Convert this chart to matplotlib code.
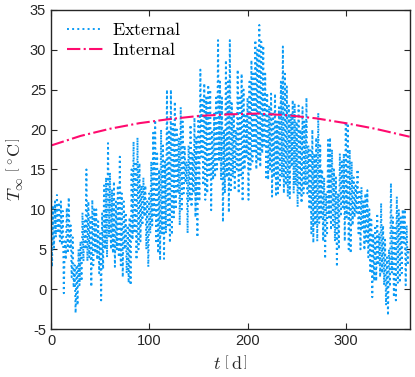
import numpy as np
from matplotlib import pyplot as plt

plt.rcParams["mathtext.fontset"] = "cm"
plt.rcParams["font.family"] = ["Liberation Sans", "DejaVu Sans"]
plt.rcParams["axes.unicode_minus"] = False

# daily external temperature (day 0 .. 364)
t_external = [
    12.4, 2.8, 10.5, 5.2, 11.0, 6.5, 11.8, 7.0, 10.9, 6.0,
    11.0, 5.5, 9.8, -0.5, 6.0, 3.7, 10.2, 4.5, 11.5, 5.0,
    8.0, 1.5, 6.5, 0.2, 3.0, -3.0, 3.0, -2.0, 5.0, 0.5,
    6.0, 1.0, 9.6, 3.5, 8.5, 5.0, 15.0, 3.5, 11.0, 4.0,
    9.0, 0.3, 11.2, 3.0, 10.0, 4.5, 10.0, 3.7, 8.5, 2.0,
    7.0, -1.4, 9.5, 2.5, 13.0, 5.0, 14.0, 4.0, 18.3, 6.5,
    14.6, 5.0, 12.5, 4.5, 13.5, 2.8, 11.0, 5.0, 13.0, 4.0,
    16.6, 3.0, 12.0, 1.5, 11.0, 5.0, 9.6, 2.0, 8.0, 0.8,
    9.0, 0.5, 15.0, 6.2, 18.5, 7.0, 16.0, 3.7, 19.0, 5.0,
    15.8, 6.0, 13.0, 8.0, 14.0, 9.1, 13.0, 5.0, 11.0, 2.8,
    12.0, 7.0, 16.0, 8.0, 19.6, 9.0, 21.2, 6.0, 17.0, 4.5,
    15.0, 3.6, 20.0, 7.0, 18.0, 3.8, 16.0, 7.0, 25.0, 8.0,
    20.0, 5.8, 25.0, 6.8, 21.0, 9.0, 23.5, 10.0, 20.0, 12.0,
    19.0, 8.0, 22.8, 10.0, 21.0, 12.0, 18.0, 13.3, 16.0, 7.0,
    18.0, 11.0, 20.6, 10.3, 17.0, 12.0, 21.5, 9.0, 19.0, 6.5,
    22.0, 11.0, 27.5, 16.6, 24.0, 13.0, 25.8, 11.2, 24.0, 12.0,
    25.6, 14.0, 25.0, 9.9, 20.0, 13.7, 22.0, 14.0, 24.0, 15.0,
    31.2, 16.0, 26.0, 13.7, 24.0, 8.4, 20.0, 12.0, 28.7, 14.0,
    26.0, 9.6, 31.2, 12.4, 23.3, 14.0, 22.0, 12.4, 20.0, 15.0,
    27.5, 12.0, 24.0, 14.0, 27.0, 11.0, 25.0, 15.0, 22.0, 16.6,
    24.0, 11.2, 26.0, 15.0, 28.7, 16.0, 27.0, 17.0, 31.2, 15.0,
    30.0, 16.0, 33.1, 15.3, 31.0, 17.0, 30.5, 18.0, 27.0, 14.0,
    24.6, 13.7, 23.0, 15.0, 24.5, 11.6, 22.0, 14.0, 24.5, 11.6,
    21.0, 12.0, 22.8, 13.0, 26.0, 14.0, 30.4, 12.0, 27.0, 13.0,
    25.4, 11.6, 23.0, 11.4, 22.0, 15.3, 23.7, 12.0, 23.3, 13.0,
    21.0, 10.3, 23.0, 12.0, 20.0, 10.8, 22.8, 12.0, 21.0, 13.0,
    24.0, 12.0, 18.0, 10.0, 17.4, 7.0, 20.0, 5.8, 17.0, 8.0,
    19.0, 6.0, 22.1, 8.3, 18.0, 9.0, 15.0, 6.0, 14.0, 3.8,
    12.0, 7.0, 18.7, 9.0, 19.0, 7.4, 17.5, 8.0, 15.0, 6.0,
    14.0, 2.8, 12.0, 5.0, 17.0, 9.1, 16.0, 10.0, 17.0, 6.0,
    21.0, 9.0, 20.8, 5.0, 17.5, 4.5, 16.0, 8.0, 14.0, 9.0,
    13.0, 9.6, 15.0, 7.0, 12.2, 5.0, 12.8, 7.4, 11.0, 4.9,
    12.0, 6.0, 12.4, 4.0, 10.0, 2.0, 8.7, -1.0, 7.0, 1.0,
    8.0, 1.0, 9.5, 3.0, 7.0, 1.5, 10.8, 2.0, 8.0, 0.5,
    6.2, -2.0, 4.0, -3.3, 5.0, 0.3, 13.3, 2.0, 9.0, -1.0,
    8.0, -1.4, 11.6, 0.8, 10.0, 0.8, 9.0, 2.0, 10.0, 5.8,
    10.0, 0.5, 8.0, 3.0, 5.0,
]
days_external = np.arange(len(t_external))

# internal temperature, read at a few days
days_internal = [0, 30, 60, 90, 120, 150, 180, 210, 240, 270, 300, 330, 365]
t_internal = [18.0, 19.2, 20.1, 20.8, 21.3, 21.7, 21.9, 22.0, 21.8, 21.4, 20.8, 20.1, 19.1]

x_ticks = [0, 100, 200, 300]
y_ticks = [-5, 0, 5, 10, 15, 20, 25, 30, 35]

fig = plt.figure(figsize=(4.15, 3.77), dpi=100)
ax = fig.add_axes([0.123, 0.127, 0.864, 0.847])

ax.plot(days_external, t_external, linestyle=":", color="#0a9bf5", linewidth=1.4,
        label=r"$\mathrm{External}$")
ax.plot(days_internal, t_internal, linestyle="-.", color="#ff0a6e", linewidth=1.5,
        label=r"$\mathrm{Internal}$")

ax.set_xlim(0, 365)
ax.set_ylim(-5, 35)
ax.set_xticks(x_ticks)
ax.set_yticks(y_ticks)
ax.tick_params(direction="in", top=True, right=True, length=4, width=0.8,
               labelsize=10.5, colors="#262626", labelcolor="#262626")
for spine in ax.spines.values():
    spine.set_color("#262626")
    spine.set_linewidth(1.0)

ax.set_xlabel(r"$t\ \left[\,\mathrm{d}\,\right]$", fontsize=13, labelpad=5, color="#262626")
ax.set_ylabel(r"$T_{\infty}\ \left[\,{}^{\circ}\mathrm{C}\,\right]$", fontsize=13, labelpad=3,
              color="#262626")

ax.legend(loc="upper left", frameon=False, fontsize=13, handlelength=2.0,
          handletextpad=0.5, borderaxespad=0.3, labelspacing=0.15,
          bbox_to_anchor=(0.01, 1.0))

fig.savefig("out.png", dpi=100)
